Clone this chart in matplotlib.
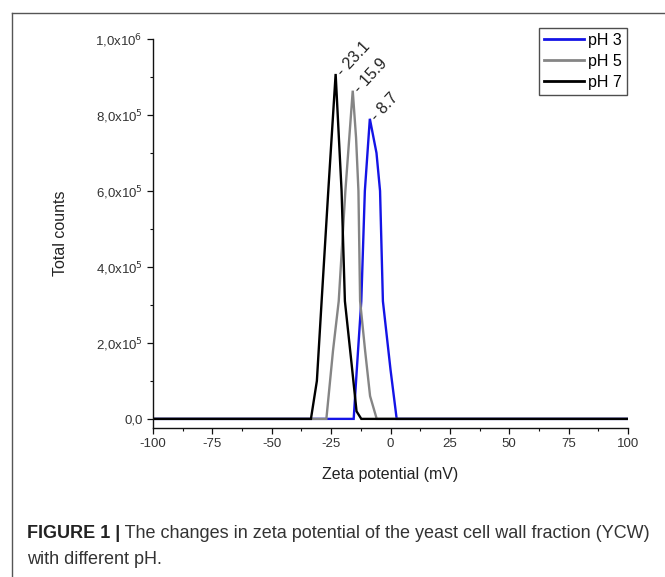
import matplotlib
matplotlib.use("Agg")
import matplotlib.pyplot as plt
from matplotlib.lines import Line2D
from matplotlib.ticker import MultipleLocator, FixedLocator, FixedFormatter

plt.rcParams['font.family'] = ['Liberation Sans', 'DejaVu Sans']
plt.rcParams['axes.unicode_minus'] = False

# ---------------- data ----------------
series_names = ['pH 3', 'pH 5', 'pH 7']
series_colors = ['#1414e6', '#858585', '#000000']

ph3_x = [-100, -15.5, -14.5, -12.3, -10.8, -8.7, -5.9, -4.4, -3.2, 0.0, 2.6, 100]
ph3_y = [0, 0, 1.0e5, 3.1e5, 6.0e5, 7.9e5, 7.0e5, 6.0e5, 3.1e5, 1.3e5, 0, 0]

ph5_x = [-100, -27.0, -24.2, -21.8, -19.0, -15.9, -14.5, -13.5, -12.8, -10.7, -8.6, -5.8, 100]
ph5_y = [0, 0, 1.8e5, 3.1e5, 6.0e5, 8.64e5, 7.4e5, 6.0e5, 3.1e5, 1.8e5, 0.6e5, 0, 0]

ph7_x = [-100, -33.5, -31.0, -29.0, -26.2, -23.1, -20.6, -19.2, -16.3, -14.3, -12.3, 100]
ph7_y = [0, 0, 1.0e5, 3.1e5, 6.0e5, 9.08e5, 6.0e5, 3.1e5, 1.4e5, 0.2e5, 0, 0]

peak_labels = ['- 8.7', '- 15.9', '- 23.1']

x_ticks = [-100, -75, -50, -25, 0, 25, 50, 75, 100]
x_ticklabels = ['-100', '-75', '-50', '-25', '0', '25', '50', '75', '100']
y_ticks = [0, 2e5, 4e5, 6e5, 8e5, 1e6]
y_ticklabels = ['0,0', r'2,0x10$^{5}$', r'4,0x10$^{5}$', r'6,0x10$^{5}$',
                r'8,0x10$^{5}$', r'1,0x10$^{6}$']

x_label = 'Zeta potential (mV)'
y_label = 'Total counts'
caption_bold = 'FIGURE 1 |'
caption_line1 = ' The changes in zeta potential of the yeast cell wall fraction (YCW)'
caption_line2 = 'with different pH.'

# ---------------- figure ----------------
W, H = 665, 577
fig = plt.figure(figsize=(W / 100, H / 100), dpi=100)
fig.patch.set_facecolor('white')

ax = fig.add_axes([153 / W, 1 - 428 / H, (628 - 153) / W, (428 - 39) / H])

xs = [ph3_x, ph5_x, ph7_x]
ys = [ph3_y, ph5_y, ph7_y]
for x, y, name, c in zip(xs, ys, series_names, series_colors):
    ax.plot(x, y, color=c, lw=1.7, label=name, solid_joinstyle='miter')

ax.set_xlim(-100, 100)
ax.set_ylim(-2.4e4, 1.0e6)

for s in ['top', 'right']:
    ax.spines[s].set_visible(False)
for s in ['left', 'bottom']:
    ax.spines[s].set_linewidth(1.0)
    ax.spines[s].set_color('#111111')

ax.xaxis.set_major_locator(FixedLocator(x_ticks))
ax.xaxis.set_major_formatter(FixedFormatter(x_ticklabels))
ax.xaxis.set_minor_locator(MultipleLocator(12.5))
ax.yaxis.set_major_locator(FixedLocator(y_ticks))
ax.yaxis.set_major_formatter(FixedFormatter(y_ticklabels))
ax.yaxis.set_minor_locator(MultipleLocator(1e5))

ax.tick_params(which='major', direction='out', length=4.5, width=0.9,
               labelsize=9.5, labelcolor='#333333', color='#111111', pad=3)
ax.tick_params(which='minor', direction='out', length=2.5, width=0.8, color='#111111')

ax.set_xlabel(x_label, fontsize=11.5, color='#222222')
ax.set_ylabel(y_label, fontsize=11.5, color='#222222')
ax.xaxis.set_label_coords(0.5, (428 - 467) / 389)
ax.yaxis.set_label_coords((68 - 153) / 475, 0.5)

# peak annotations
for x, y, lab in zip(xs, ys, peak_labels):
    i = max(range(len(y)), key=lambda k: y[k])
    ax.annotate(lab, xy=(x[i], y[i]), xytext=(3, 0), textcoords='offset points',
                rotation=47, rotation_mode='anchor', ha='left', va='center',
                fontsize=11.5, color='#222222')

leg = ax.legend(loc='upper right', bbox_to_anchor=(627 / W, 1 - 28 / H),
                bbox_transform=fig.transFigure, fontsize=11.5, frameon=True,
                fancybox=False, edgecolor='#222222', handlelength=2.5,
                handletextpad=0.3, labelspacing=0.38, borderpad=0.3,
                borderaxespad=0)
leg.get_frame().set_linewidth(1.0)
for line in leg.get_lines():
    line.set_linewidth(2.0)

# outer frame (left and top border of the figure panel)
fig.add_artist(Line2D([12 / W, 12 / W], [0, 1 - 13 / H], transform=fig.transFigure,
                      color='#555555', lw=1.0))
fig.add_artist(Line2D([12 / W, 1], [1 - 13 / H, 1 - 13 / H], transform=fig.transFigure,
                      color='#555555', lw=1.0))

# caption
cap_fam = ['Liberation Sans', 'DejaVu Sans']
cap_fs = 13
t1 = fig.text(27 / W, 1 - 534 / H, caption_bold, fontsize=cap_fs, weight='bold',
              family=cap_fam, va='center', ha='left', color='#222222')
fig.canvas.draw()
r = fig.canvas.get_renderer()
bb = t1.get_window_extent(r)
fig.text(bb.x1 / W, 1 - 534 / H, caption_line1, fontsize=cap_fs, family=cap_fam,
         va='center', ha='left', color='#333333')
fig.text(27 / W, 1 - 559 / H, caption_line2, fontsize=cap_fs, family=cap_fam,
         va='center', ha='left', color='#333333')

fig.savefig('out.png', dpi=100, facecolor='white')
